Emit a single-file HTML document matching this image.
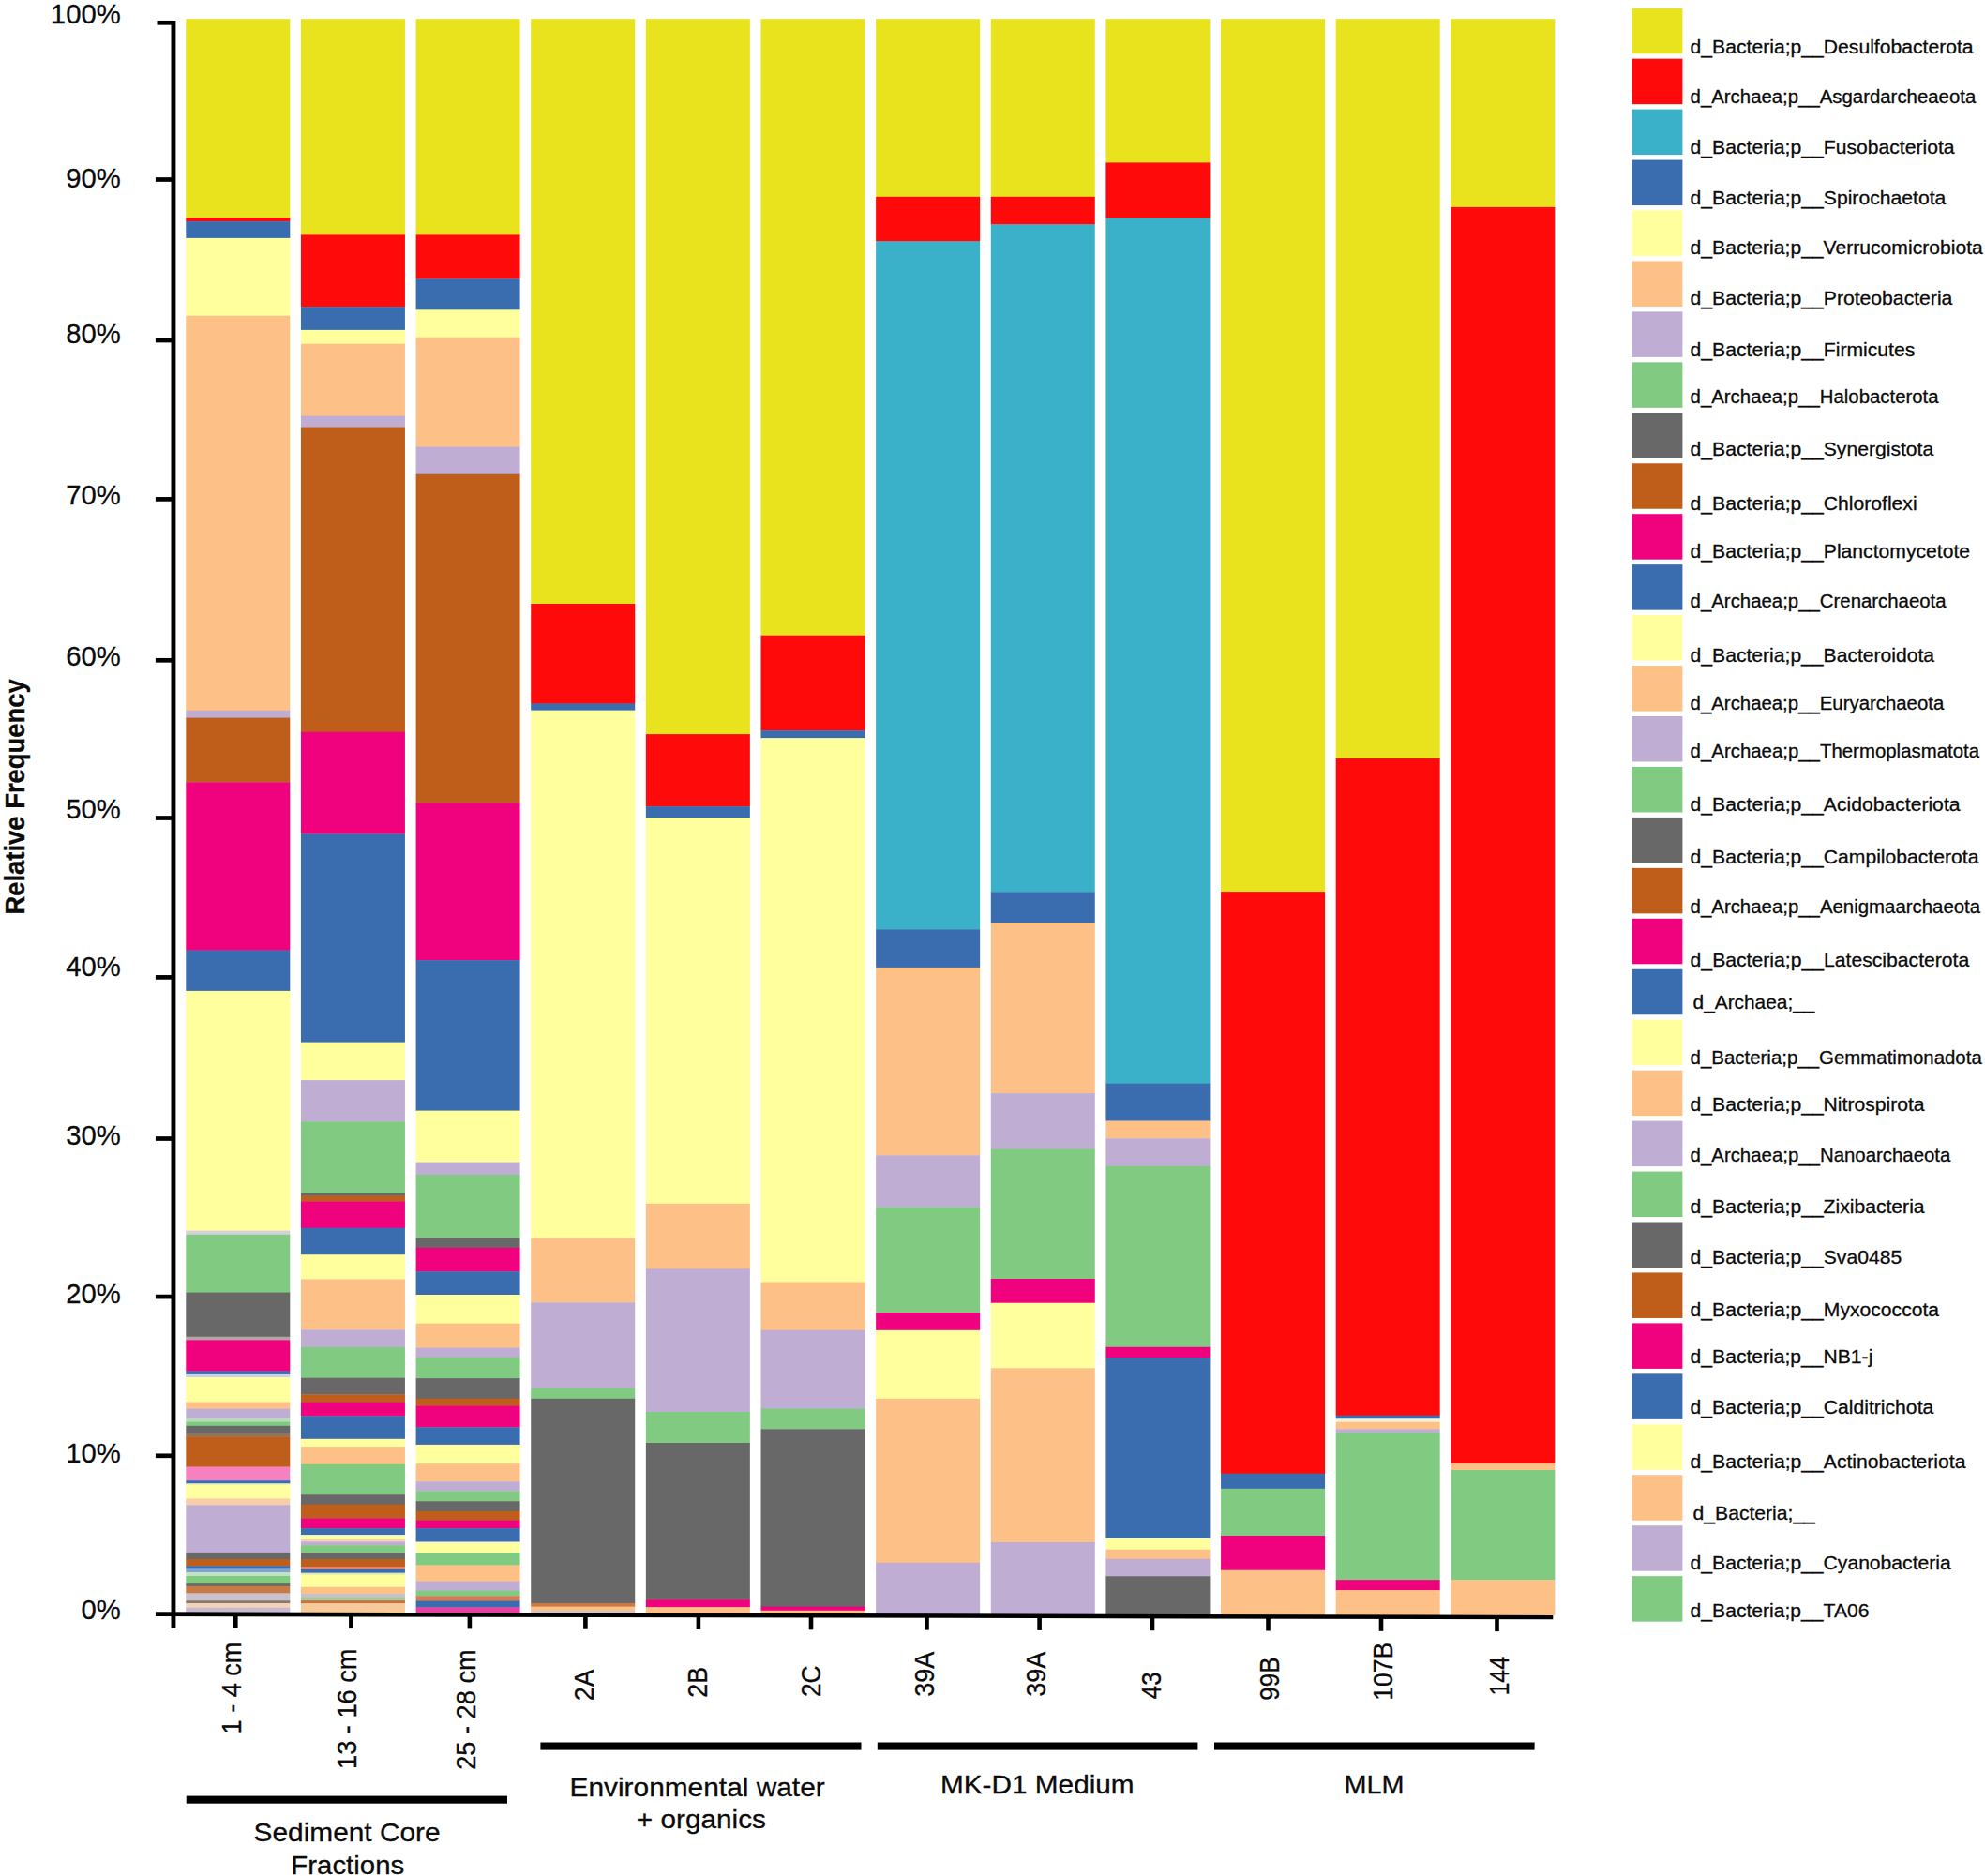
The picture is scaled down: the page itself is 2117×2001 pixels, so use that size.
<!DOCTYPE html>
<html lang="en"><head><meta charset="utf-8"><title>Relative Frequency</title>
<style>html,body{margin:0;padding:0;background:#fff}svg{display:block}text{font-family:"Liberation Sans",sans-serif;fill:#0b0b0b;stroke:#0b0b0b;stroke-width:0.3px}</style>
</head><body>
<svg width="2117" height="2001" viewBox="0 0 2117 2001">
<rect width="2117" height="2001" fill="#fff"/>
<g id="bars">
<rect x="198.30" y="20.20" width="111.00" height="212.20" fill="#e8e31d"/>
<rect x="198.30" y="232.00" width="111.00" height="4.60" fill="#fe0a0a"/>
<rect x="198.30" y="236.20" width="111.00" height="18.10" fill="#3a6db0"/>
<rect x="198.30" y="253.90" width="111.00" height="83.20" fill="#ffff9e"/>
<rect x="198.30" y="336.70" width="111.00" height="421.50" fill="#fdc086"/>
<rect x="198.30" y="757.80" width="111.00" height="8.20" fill="#bfadd4"/>
<rect x="198.30" y="765.60" width="111.00" height="69.10" fill="#bf5d1b"/>
<rect x="198.30" y="834.30" width="111.00" height="179.60" fill="#f0027f"/>
<rect x="198.30" y="1013.50" width="111.00" height="43.80" fill="#3a6db0"/>
<rect x="198.30" y="1056.90" width="111.00" height="256.10" fill="#ffff9e"/>
<rect x="198.30" y="1312.60" width="111.00" height="4.60" fill="#d8cfdc"/>
<rect x="198.30" y="1316.80" width="111.00" height="62.20" fill="#81ca81"/>
<rect x="198.30" y="1378.60" width="111.00" height="47.50" fill="#686868"/>
<rect x="198.30" y="1425.70" width="111.00" height="4.00" fill="#b3a3a3"/>
<rect x="198.30" y="1429.30" width="111.00" height="33.50" fill="#f0027f"/>
<rect x="198.30" y="1462.40" width="111.00" height="3.90" fill="#3a6db0"/>
<rect x="198.30" y="1465.90" width="111.00" height="3.60" fill="#c9d3e6"/>
<rect x="198.30" y="1469.10" width="111.00" height="26.80" fill="#ffff9e"/>
<rect x="198.30" y="1495.50" width="111.00" height="7.50" fill="#fdc086"/>
<rect x="198.30" y="1502.60" width="111.00" height="10.90" fill="#bfadd4"/>
<rect x="198.30" y="1513.10" width="111.00" height="3.90" fill="#b6dcb6"/>
<rect x="198.30" y="1516.60" width="111.00" height="4.60" fill="#81ca81"/>
<rect x="198.30" y="1520.80" width="111.00" height="8.10" fill="#686868"/>
<rect x="198.30" y="1528.50" width="111.00" height="4.20" fill="#8d7362"/>
<rect x="198.30" y="1532.30" width="111.00" height="32.60" fill="#bf5d1b"/>
<rect x="198.30" y="1564.50" width="111.00" height="15.10" fill="#f781bf"/>
<rect x="198.30" y="1579.20" width="111.00" height="3.50" fill="#3a6db0"/>
<rect x="198.30" y="1582.30" width="111.00" height="1.90" fill="#ecebc6"/>
<rect x="198.30" y="1583.80" width="111.00" height="15.00" fill="#ffff9e"/>
<rect x="198.30" y="1598.40" width="111.00" height="7.30" fill="#f7cdaa"/>
<rect x="198.30" y="1605.30" width="111.00" height="51.00" fill="#bfadd4"/>
<rect x="198.30" y="1655.90" width="111.00" height="7.50" fill="#686868"/>
<rect x="198.30" y="1663.00" width="111.00" height="7.60" fill="#bf5d1b"/>
<rect x="198.30" y="1670.20" width="111.00" height="3.60" fill="#3a6db0"/>
<rect x="198.30" y="1673.40" width="111.00" height="4.00" fill="#7da4d6"/>
<rect x="198.30" y="1677.00" width="111.00" height="4.40" fill="#c1e1c1"/>
<rect x="198.30" y="1681.00" width="111.00" height="8.50" fill="#81ca81"/>
<rect x="198.30" y="1689.10" width="111.00" height="3.10" fill="#686868"/>
<rect x="198.30" y="1691.80" width="111.00" height="8.00" fill="#c87a45"/>
<rect x="198.30" y="1699.40" width="111.00" height="8.20" fill="#c9c1d0"/>
<rect x="198.30" y="1707.20" width="111.00" height="3.20" fill="#8b7a6b"/>
<rect x="198.30" y="1710.00" width="111.00" height="5.20" fill="#f1d3ba"/>
<rect x="198.30" y="1714.80" width="111.00" height="8.20" fill="#c9b9d0"/>
<rect x="320.94" y="20.20" width="111.00" height="230.60" fill="#e8e31d"/>
<rect x="320.94" y="250.40" width="111.00" height="77.20" fill="#fe0a0a"/>
<rect x="320.94" y="327.20" width="111.00" height="25.10" fill="#3a6db0"/>
<rect x="320.94" y="351.90" width="111.00" height="15.20" fill="#ffff9e"/>
<rect x="320.94" y="366.70" width="111.00" height="77.30" fill="#fdc086"/>
<rect x="320.94" y="443.60" width="111.00" height="12.30" fill="#bfadd4"/>
<rect x="320.94" y="455.50" width="111.00" height="325.60" fill="#bf5d1b"/>
<rect x="320.94" y="780.70" width="111.00" height="109.10" fill="#f0027f"/>
<rect x="320.94" y="889.40" width="111.00" height="222.60" fill="#3a6db0"/>
<rect x="320.94" y="1111.60" width="111.00" height="40.90" fill="#ffff9e"/>
<rect x="320.94" y="1152.10" width="111.00" height="44.50" fill="#bfadd4"/>
<rect x="320.94" y="1196.20" width="111.00" height="76.90" fill="#81ca81"/>
<rect x="320.94" y="1272.70" width="111.00" height="3.20" fill="#686868"/>
<rect x="320.94" y="1275.50" width="111.00" height="6.40" fill="#bf5d1b"/>
<rect x="320.94" y="1281.50" width="111.00" height="28.60" fill="#f0027f"/>
<rect x="320.94" y="1309.70" width="111.00" height="29.00" fill="#3a6db0"/>
<rect x="320.94" y="1338.30" width="111.00" height="26.50" fill="#ffff9e"/>
<rect x="320.94" y="1364.40" width="111.00" height="54.40" fill="#fdc086"/>
<rect x="320.94" y="1418.40" width="111.00" height="19.00" fill="#bfadd4"/>
<rect x="320.94" y="1437.00" width="111.00" height="33.10" fill="#81ca81"/>
<rect x="320.94" y="1469.70" width="111.00" height="18.00" fill="#686868"/>
<rect x="320.94" y="1487.30" width="111.00" height="8.60" fill="#bf5d1b"/>
<rect x="320.94" y="1495.50" width="111.00" height="15.20" fill="#f0027f"/>
<rect x="320.94" y="1510.30" width="111.00" height="24.90" fill="#3a6db0"/>
<rect x="320.94" y="1534.80" width="111.00" height="8.70" fill="#ffff9e"/>
<rect x="320.94" y="1543.10" width="111.00" height="19.10" fill="#fdc086"/>
<rect x="320.94" y="1561.80" width="111.00" height="32.80" fill="#81ca81"/>
<rect x="320.94" y="1594.20" width="111.00" height="10.90" fill="#686868"/>
<rect x="320.94" y="1604.70" width="111.00" height="15.10" fill="#bf5d1b"/>
<rect x="320.94" y="1619.40" width="111.00" height="11.10" fill="#f0027f"/>
<rect x="320.94" y="1630.10" width="111.00" height="7.30" fill="#3a6db0"/>
<rect x="320.94" y="1637.00" width="111.00" height="1.80" fill="#eef0c8"/>
<rect x="320.94" y="1638.40" width="111.00" height="4.00" fill="#ffff9e"/>
<rect x="320.94" y="1642.00" width="111.00" height="2.70" fill="#f7d2ac"/>
<rect x="320.94" y="1644.30" width="111.00" height="4.30" fill="#bfadd4"/>
<rect x="320.94" y="1648.20" width="111.00" height="8.20" fill="#81ca81"/>
<rect x="320.94" y="1656.00" width="111.00" height="7.40" fill="#686868"/>
<rect x="320.94" y="1663.00" width="111.00" height="8.70" fill="#bf5d1b"/>
<rect x="320.94" y="1671.30" width="111.00" height="3.10" fill="#e8826f"/>
<rect x="320.94" y="1674.00" width="111.00" height="4.00" fill="#3a6db0"/>
<rect x="320.94" y="1677.60" width="111.00" height="2.40" fill="#dfe6b8"/>
<rect x="320.94" y="1679.60" width="111.00" height="13.60" fill="#ffff9e"/>
<rect x="320.94" y="1692.80" width="111.00" height="7.60" fill="#fdc086"/>
<rect x="320.94" y="1700.00" width="111.00" height="3.70" fill="#c9c1c8"/>
<rect x="320.94" y="1703.30" width="111.00" height="4.20" fill="#a2c9a2"/>
<rect x="320.94" y="1707.10" width="111.00" height="3.50" fill="#c8733a"/>
<rect x="320.94" y="1710.20" width="111.00" height="12.80" fill="#f8c999"/>
<rect x="443.58" y="20.20" width="111.00" height="230.60" fill="#e8e31d"/>
<rect x="443.58" y="250.40" width="111.00" height="47.20" fill="#fe0a0a"/>
<rect x="443.58" y="297.20" width="111.00" height="33.60" fill="#3a6db0"/>
<rect x="443.58" y="330.40" width="111.00" height="29.70" fill="#ffff9e"/>
<rect x="443.58" y="359.70" width="111.00" height="117.20" fill="#fdc086"/>
<rect x="443.58" y="476.50" width="111.00" height="29.60" fill="#bfadd4"/>
<rect x="443.58" y="505.70" width="111.00" height="350.90" fill="#bf5d1b"/>
<rect x="443.58" y="856.20" width="111.00" height="168.30" fill="#f0027f"/>
<rect x="443.58" y="1024.10" width="111.00" height="160.90" fill="#3a6db0"/>
<rect x="443.58" y="1184.60" width="111.00" height="55.40" fill="#ffff9e"/>
<rect x="443.58" y="1239.60" width="111.00" height="13.80" fill="#bfadd4"/>
<rect x="443.58" y="1253.00" width="111.00" height="67.70" fill="#81ca81"/>
<rect x="443.58" y="1320.30" width="111.00" height="11.00" fill="#686868"/>
<rect x="443.58" y="1330.90" width="111.00" height="25.80" fill="#f0027f"/>
<rect x="443.58" y="1356.30" width="111.00" height="25.10" fill="#3a6db0"/>
<rect x="443.58" y="1381.00" width="111.00" height="31.10" fill="#ffff9e"/>
<rect x="443.58" y="1411.70" width="111.00" height="26.20" fill="#fdc086"/>
<rect x="443.58" y="1437.50" width="111.00" height="10.60" fill="#bfadd4"/>
<rect x="443.58" y="1447.70" width="111.00" height="22.80" fill="#81ca81"/>
<rect x="443.58" y="1470.10" width="111.00" height="22.00" fill="#686868"/>
<rect x="443.58" y="1491.70" width="111.00" height="8.10" fill="#bf5d1b"/>
<rect x="443.58" y="1499.40" width="111.00" height="23.30" fill="#f0027f"/>
<rect x="443.58" y="1522.30" width="111.00" height="19.00" fill="#3a6db0"/>
<rect x="443.58" y="1540.90" width="111.00" height="20.70" fill="#ffff9e"/>
<rect x="443.58" y="1561.20" width="111.00" height="19.40" fill="#fdc086"/>
<rect x="443.58" y="1580.20" width="111.00" height="10.50" fill="#bfadd4"/>
<rect x="443.58" y="1590.30" width="111.00" height="11.30" fill="#81ca81"/>
<rect x="443.58" y="1601.20" width="111.00" height="11.10" fill="#686868"/>
<rect x="443.58" y="1611.90" width="111.00" height="10.00" fill="#bf5d1b"/>
<rect x="443.58" y="1621.50" width="111.00" height="9.00" fill="#f0027f"/>
<rect x="443.58" y="1630.10" width="111.00" height="14.80" fill="#3a6db0"/>
<rect x="443.58" y="1644.50" width="111.00" height="1.70" fill="#f4f4dc"/>
<rect x="443.58" y="1645.80" width="111.00" height="10.60" fill="#ffff9e"/>
<rect x="443.58" y="1656.00" width="111.00" height="13.80" fill="#81ca81"/>
<rect x="443.58" y="1669.40" width="111.00" height="17.60" fill="#fdc086"/>
<rect x="443.58" y="1686.60" width="111.00" height="10.30" fill="#bfadd4"/>
<rect x="443.58" y="1696.50" width="111.00" height="6.20" fill="#81ca81"/>
<rect x="443.58" y="1702.30" width="111.00" height="5.60" fill="#d97a52"/>
<rect x="443.58" y="1707.50" width="111.00" height="7.30" fill="#3a6db0"/>
<rect x="443.58" y="1714.40" width="111.00" height="8.60" fill="#e7409f"/>
<rect x="566.22" y="20.20" width="111.00" height="624.20" fill="#e8e31d"/>
<rect x="566.22" y="644.00" width="111.00" height="106.90" fill="#fe0a0a"/>
<rect x="566.22" y="750.50" width="111.00" height="7.50" fill="#3a6db0"/>
<rect x="566.22" y="757.60" width="111.00" height="563.20" fill="#ffff9e"/>
<rect x="566.22" y="1320.40" width="111.00" height="69.30" fill="#fdc086"/>
<rect x="566.22" y="1389.30" width="111.00" height="91.50" fill="#bfadd4"/>
<rect x="566.22" y="1480.40" width="111.00" height="11.80" fill="#81ca81"/>
<rect x="566.22" y="1491.80" width="111.00" height="218.50" fill="#686868"/>
<rect x="566.22" y="1709.90" width="111.00" height="4.10" fill="#c87a45"/>
<rect x="566.22" y="1713.60" width="111.00" height="4.40" fill="#fdc086"/>
<rect x="566.22" y="1717.60" width="111.00" height="5.40" fill="#d9c4c4"/>
<rect x="688.86" y="20.20" width="111.00" height="763.30" fill="#e8e31d"/>
<rect x="688.86" y="783.10" width="111.00" height="77.50" fill="#fe0a0a"/>
<rect x="688.86" y="860.20" width="111.00" height="12.20" fill="#3a6db0"/>
<rect x="688.86" y="872.00" width="111.00" height="412.20" fill="#ffff9e"/>
<rect x="688.86" y="1283.80" width="111.00" height="69.80" fill="#fdc086"/>
<rect x="688.86" y="1353.20" width="111.00" height="153.20" fill="#bfadd4"/>
<rect x="688.86" y="1506.00" width="111.00" height="33.40" fill="#81ca81"/>
<rect x="688.86" y="1539.00" width="111.00" height="167.90" fill="#686868"/>
<rect x="688.86" y="1706.50" width="111.00" height="8.10" fill="#f0027f"/>
<rect x="688.86" y="1714.20" width="111.00" height="8.80" fill="#fdc086"/>
<rect x="811.50" y="20.20" width="111.00" height="657.90" fill="#e8e31d"/>
<rect x="811.50" y="677.70" width="111.00" height="101.90" fill="#fe0a0a"/>
<rect x="811.50" y="779.20" width="111.00" height="8.40" fill="#3a6db0"/>
<rect x="811.50" y="787.20" width="111.00" height="580.70" fill="#ffff9e"/>
<rect x="811.50" y="1367.50" width="111.00" height="51.70" fill="#fdc086"/>
<rect x="811.50" y="1418.80" width="111.00" height="84.20" fill="#bfadd4"/>
<rect x="811.50" y="1502.60" width="111.00" height="22.10" fill="#81ca81"/>
<rect x="811.50" y="1524.30" width="111.00" height="189.70" fill="#686868"/>
<rect x="811.50" y="1713.60" width="111.00" height="4.60" fill="#f0027f"/>
<rect x="811.50" y="1717.80" width="111.00" height="5.20" fill="#fdc086"/>
<rect x="934.14" y="20.20" width="111.00" height="190.00" fill="#e8e31d"/>
<rect x="934.14" y="209.80" width="111.00" height="47.90" fill="#fe0a0a"/>
<rect x="934.14" y="257.30" width="111.00" height="734.40" fill="#3bb0c9"/>
<rect x="934.14" y="991.30" width="111.00" height="41.00" fill="#3a6db0"/>
<rect x="934.14" y="1031.90" width="111.00" height="200.80" fill="#fdc086"/>
<rect x="934.14" y="1232.30" width="111.00" height="55.50" fill="#bfadd4"/>
<rect x="934.14" y="1287.40" width="111.00" height="113.00" fill="#81ca81"/>
<rect x="934.14" y="1400.00" width="111.00" height="19.20" fill="#f0027f"/>
<rect x="934.14" y="1418.80" width="111.00" height="73.40" fill="#ffff9e"/>
<rect x="934.14" y="1491.80" width="111.00" height="175.40" fill="#fdc086"/>
<rect x="934.14" y="1666.80" width="111.00" height="56.20" fill="#bfadd4"/>
<rect x="1056.78" y="20.20" width="111.00" height="190.00" fill="#e8e31d"/>
<rect x="1056.78" y="209.80" width="111.00" height="29.90" fill="#fe0a0a"/>
<rect x="1056.78" y="239.30" width="111.00" height="712.60" fill="#3bb0c9"/>
<rect x="1056.78" y="951.50" width="111.00" height="32.90" fill="#3a6db0"/>
<rect x="1056.78" y="984.00" width="111.00" height="182.50" fill="#fdc086"/>
<rect x="1056.78" y="1166.10" width="111.00" height="59.70" fill="#bfadd4"/>
<rect x="1056.78" y="1225.40" width="111.00" height="139.00" fill="#81ca81"/>
<rect x="1056.78" y="1364.00" width="111.00" height="26.10" fill="#f0027f"/>
<rect x="1056.78" y="1389.70" width="111.00" height="70.00" fill="#ffff9e"/>
<rect x="1056.78" y="1459.30" width="111.00" height="186.10" fill="#fdc086"/>
<rect x="1056.78" y="1645.00" width="111.00" height="78.00" fill="#bfadd4"/>
<rect x="1179.42" y="20.20" width="111.00" height="153.60" fill="#e8e31d"/>
<rect x="1179.42" y="173.40" width="111.00" height="59.40" fill="#fe0a0a"/>
<rect x="1179.42" y="232.40" width="111.00" height="923.70" fill="#3bb0c9"/>
<rect x="1179.42" y="1155.70" width="111.00" height="40.20" fill="#3a6db0"/>
<rect x="1179.42" y="1195.50" width="111.00" height="19.20" fill="#fdc086"/>
<rect x="1179.42" y="1214.30" width="111.00" height="29.90" fill="#bfadd4"/>
<rect x="1179.42" y="1243.80" width="111.00" height="193.40" fill="#81ca81"/>
<rect x="1179.42" y="1436.80" width="111.00" height="11.80" fill="#f0027f"/>
<rect x="1179.42" y="1448.20" width="111.00" height="193.00" fill="#3a6db0"/>
<rect x="1179.42" y="1640.80" width="111.00" height="12.30" fill="#ffff9e"/>
<rect x="1179.42" y="1652.70" width="111.00" height="10.50" fill="#fdc086"/>
<rect x="1179.42" y="1662.80" width="111.00" height="18.80" fill="#bfadd4"/>
<rect x="1179.42" y="1681.20" width="111.00" height="41.80" fill="#686868"/>
<rect x="1302.06" y="20.20" width="111.00" height="931.30" fill="#e8e31d"/>
<rect x="1302.06" y="951.10" width="111.00" height="621.00" fill="#fe0a0a"/>
<rect x="1302.06" y="1571.70" width="111.00" height="16.50" fill="#3a6db0"/>
<rect x="1302.06" y="1587.80" width="111.00" height="50.60" fill="#81ca81"/>
<rect x="1302.06" y="1638.00" width="111.00" height="37.10" fill="#f0027f"/>
<rect x="1302.06" y="1674.70" width="111.00" height="48.30" fill="#fdc086"/>
<rect x="1424.70" y="20.20" width="111.00" height="789.00" fill="#e8e31d"/>
<rect x="1424.70" y="808.80" width="111.00" height="701.20" fill="#fe0a0a"/>
<rect x="1424.70" y="1509.60" width="111.00" height="4.10" fill="#3a6db0"/>
<rect x="1424.70" y="1513.30" width="111.00" height="3.80" fill="#f3f3cf"/>
<rect x="1424.70" y="1516.70" width="111.00" height="8.00" fill="#fdc086"/>
<rect x="1424.70" y="1524.30" width="111.00" height="4.10" fill="#bfadd4"/>
<rect x="1424.70" y="1528.00" width="111.00" height="157.50" fill="#81ca81"/>
<rect x="1424.70" y="1685.10" width="111.00" height="11.40" fill="#f0027f"/>
<rect x="1424.70" y="1696.10" width="111.00" height="26.90" fill="#fdc086"/>
<rect x="1547.34" y="20.20" width="111.00" height="201.10" fill="#e8e31d"/>
<rect x="1547.34" y="220.90" width="111.00" height="1340.50" fill="#fe0a0a"/>
<rect x="1547.34" y="1561.00" width="111.00" height="7.40" fill="#fdc086"/>
<rect x="1547.34" y="1568.00" width="111.00" height="117.50" fill="#81ca81"/>
<rect x="1547.34" y="1685.10" width="111.00" height="37.90" fill="#fdc086"/>
</g>
<g id="axes" fill="#000">
<rect x="182.5" y="22" width="4.9" height="1715"/>
<polygon points="165.9,1719.3 1656.3,1722.9 1656.3,1727.2 165.9,1724.1"/>
<rect x="167.5" y="21.95" width="16.5" height="4.7"/>
<rect x="165.9" y="189.15" width="18.1" height="4.7"/>
<rect x="165.9" y="360.65" width="18.1" height="4.7"/>
<rect x="165.9" y="530.05" width="18.1" height="4.7"/>
<rect x="165.9" y="701.95" width="18.1" height="4.7"/>
<rect x="165.9" y="870.15" width="18.1" height="4.7"/>
<rect x="165.9" y="1040.05" width="18.1" height="4.7"/>
<rect x="165.9" y="1212.15" width="18.1" height="4.7"/>
<rect x="165.9" y="1380.75" width="18.1" height="4.7"/>
<rect x="165.9" y="1550.45" width="18.1" height="4.7"/>
<rect x="249.00" y="1720.51" width="4.6" height="16.29"/>
<rect x="372.10" y="1720.80" width="4.6" height="16.30"/>
<rect x="498.60" y="1721.11" width="4.6" height="16.30"/>
<rect x="622.10" y="1721.41" width="4.6" height="16.31"/>
<rect x="742.60" y="1721.70" width="4.6" height="16.31"/>
<rect x="862.70" y="1721.99" width="4.6" height="16.32"/>
<rect x="986.20" y="1722.29" width="4.6" height="16.32"/>
<rect x="1106.30" y="1722.58" width="4.6" height="16.33"/>
<rect x="1226.70" y="1722.87" width="4.6" height="16.33"/>
<rect x="1350.20" y="1723.17" width="4.6" height="16.34"/>
<rect x="1470.70" y="1723.46" width="4.6" height="16.34"/>
<rect x="1594.20" y="1723.76" width="4.6" height="16.34"/>
</g>
<g id="groups" fill="#000">
<rect x="198.7" y="1915.6" width="342.3" height="8.1"/>
<rect x="576.4" y="1858.5" width="342.1" height="8.1"/>
<rect x="935.8" y="1858.5" width="341.6" height="8.1"/>
<rect x="1295.0" y="1858.5" width="341.6" height="8.1"/>
</g>
<g id="ylabels">
<text transform="translate(128.70,25.30) scale(0.992,1)" font-size="29.5" text-anchor="end">100%</text>
<text transform="translate(128.70,199.80) scale(0.992,1)" font-size="29.5" text-anchor="end">90%</text>
<text transform="translate(128.70,365.70) scale(0.992,1)" font-size="29.5" text-anchor="end">80%</text>
<text transform="translate(128.70,538.10) scale(0.992,1)" font-size="29.5" text-anchor="end">70%</text>
<text transform="translate(128.70,709.70) scale(0.992,1)" font-size="29.5" text-anchor="end">60%</text>
<text transform="translate(128.70,872.60) scale(0.992,1)" font-size="29.5" text-anchor="end">50%</text>
<text transform="translate(128.70,1040.90) scale(0.992,1)" font-size="29.5" text-anchor="end">40%</text>
<text transform="translate(128.70,1220.50) scale(0.992,1)" font-size="29.5" text-anchor="end">30%</text>
<text transform="translate(128.70,1390.10) scale(0.992,1)" font-size="29.5" text-anchor="end">20%</text>
<text transform="translate(128.70,1559.80) scale(0.992,1)" font-size="29.5" text-anchor="end">10%</text>
<text transform="translate(128.70,1727.30) scale(0.992,1)" font-size="29.5" text-anchor="end">0%</text>
</g>
<text transform="translate(26.40,975.60) scale(1.0900,0.9905) rotate(-90)" font-size="27.7" font-weight="bold">Relative Frequency</text>
<g id="xlabels">
<text transform="translate(257.30,1849.40) scale(1.0700,0.9800) rotate(-90)" font-size="27.6">1 - 4 cm</text>
<text transform="translate(380.30,1886.90) scale(1.0700,0.9833) rotate(-90)" font-size="27.6">13 - 16 cm</text>
<text transform="translate(506.70,1887.80) scale(1.0700,0.9856) rotate(-90)" font-size="27.6">25 - 28 cm</text>
<text transform="translate(632.70,1814.30) scale(1.0700,0.9925) rotate(-90)" font-size="27.6">2A</text>
<text transform="translate(753.50,1810.70) scale(1.0700,0.9688) rotate(-90)" font-size="27.6">2B</text>
<text transform="translate(875.00,1810.10) scale(1.0700,0.9522) rotate(-90)" font-size="27.6">2C</text>
<text transform="translate(996.20,1809.80) scale(1.0700,0.9794) rotate(-90)" font-size="27.6">39A</text>
<text transform="translate(1115.30,1809.80) scale(1.0700,0.9794) rotate(-90)" font-size="27.6">39A</text>
<text transform="translate(1237.50,1812.20) scale(1.0700,0.9347) rotate(-90)" font-size="27.6">43</text>
<text transform="translate(1363.60,1813.70) scale(1.0700,0.9407) rotate(-90)" font-size="27.6">99B</text>
<text transform="translate(1484.50,1813.70) scale(1.0700,0.9618) rotate(-90)" font-size="27.6">107B</text>
<text transform="translate(1608.50,1808.60) scale(1.0700,0.9055) rotate(-90)" font-size="27.6">144</text>
</g>
<g id="grouplabels">
<text transform="translate(270.60,1964.10) scale(1.0737,1)" font-size="27.8">Sediment Core</text>
<text transform="translate(310.30,1998.60) scale(1.0575,1)" font-size="27.8">Fractions</text>
<text transform="translate(607.50,1915.60) scale(1.0745,1)" font-size="27.8">Environmental water</text>
<text transform="translate(678.80,1950.30) scale(1.0710,1)" font-size="27.8">+ organics</text>
<text transform="translate(1002.90,1912.60) scale(1.0710,1)" font-size="27.8">MK-D1 Medium</text>
<text transform="translate(1433.40,1912.60) scale(1.0377,1)" font-size="27.8">MLM</text>
</g>
<g id="legend">
<rect x="1740.5" y="8.70" width="53.9" height="48.5" fill="#e8e31d"/>
<text transform="translate(1802.60,56.60) scale(1.0368,1)" font-size="20.4">d_Bacteria;p__Desulfobacterota</text>
<rect x="1740.5" y="62.65" width="53.9" height="48.5" fill="#fe0a0a"/>
<text transform="translate(1802.60,109.80) scale(0.9993,1)" font-size="20.4">d_Archaea;p__Asgardarcheaeota</text>
<rect x="1740.5" y="116.60" width="53.9" height="48.5" fill="#3bb0c9"/>
<text transform="translate(1802.60,163.60) scale(1.0361,1)" font-size="20.4">d_Bacteria;p__Fusobacteriota</text>
<rect x="1740.5" y="170.55" width="53.9" height="48.5" fill="#3a6db0"/>
<text transform="translate(1802.60,218.30) scale(1.0371,1)" font-size="20.4">d_Bacteria;p__Spirochaetota</text>
<rect x="1740.5" y="224.50" width="53.9" height="48.5" fill="#ffff9e"/>
<text transform="translate(1802.60,271.40) scale(1.0357,1)" font-size="20.4">d_Bacteria;p__Verrucomicrobiota</text>
<rect x="1740.5" y="278.45" width="53.9" height="48.5" fill="#fdc086"/>
<text transform="translate(1802.60,325.30) scale(1.0373,1)" font-size="20.4">d_Bacteria;p__Proteobacteria</text>
<rect x="1740.5" y="332.40" width="53.9" height="48.5" fill="#bfadd4"/>
<text transform="translate(1802.60,380.20) scale(1.0372,1)" font-size="20.4">d_Bacteria;p__Firmicutes</text>
<rect x="1740.5" y="386.35" width="53.9" height="48.5" fill="#81ca81"/>
<text transform="translate(1802.60,430.40) scale(0.9993,1)" font-size="20.4">d_Archaea;p__Halobacterota</text>
<rect x="1740.5" y="440.30" width="53.9" height="48.5" fill="#686868"/>
<text transform="translate(1802.60,485.50) scale(1.0362,1)" font-size="20.4">d_Bacteria;p__Synergistota</text>
<rect x="1740.5" y="494.25" width="53.9" height="48.5" fill="#bf5d1b"/>
<text transform="translate(1802.60,543.70) scale(1.0363,1)" font-size="20.4">d_Bacteria;p__Chloroflexi</text>
<rect x="1740.5" y="548.20" width="53.9" height="48.5" fill="#f0027f"/>
<text transform="translate(1802.60,594.90) scale(1.0367,1)" font-size="20.4">d_Bacteria;p__Planctomycetote</text>
<rect x="1740.5" y="602.15" width="53.9" height="48.5" fill="#3a6db0"/>
<text transform="translate(1802.60,648.20) scale(0.9999,1)" font-size="20.4">d_Archaea;p__Crenarchaeota</text>
<rect x="1740.5" y="656.10" width="53.9" height="48.5" fill="#ffff9e"/>
<text transform="translate(1802.60,706.10) scale(1.0354,1)" font-size="20.4">d_Bacteria;p__Bacteroidota</text>
<rect x="1740.5" y="710.05" width="53.9" height="48.5" fill="#fdc086"/>
<text transform="translate(1802.60,757.00) scale(0.9994,1)" font-size="20.4">d_Archaea;p__Euryarchaeota</text>
<rect x="1740.5" y="764.00" width="53.9" height="48.5" fill="#bfadd4"/>
<text transform="translate(1802.60,808.10) scale(1.0008,1)" font-size="20.4">d_Archaea;p__Thermoplasmatota</text>
<rect x="1740.5" y="817.95" width="53.9" height="48.5" fill="#81ca81"/>
<text transform="translate(1802.60,865.20) scale(1.0369,1)" font-size="20.4">d_Bacteria;p__Acidobacteriota</text>
<rect x="1740.5" y="871.90" width="53.9" height="48.5" fill="#686868"/>
<text transform="translate(1802.60,920.50) scale(1.0363,1)" font-size="20.4">d_Bacteria;p__Campilobacterota</text>
<rect x="1740.5" y="925.85" width="53.9" height="48.5" fill="#bf5d1b"/>
<text transform="translate(1802.60,973.70) scale(1.0002,1)" font-size="20.4">d_Archaea;p__Aenigmaarchaeota</text>
<rect x="1740.5" y="979.80" width="53.9" height="48.5" fill="#f0027f"/>
<text transform="translate(1802.60,1031.00) scale(1.0379,1)" font-size="20.4">d_Bacteria;p__Latescibacterota</text>
<rect x="1740.5" y="1033.75" width="53.9" height="48.5" fill="#3a6db0"/>
<text transform="translate(1805.60,1076.30) scale(1.0223,1)" font-size="20.4">d_Archaea;__</text>
<rect x="1740.5" y="1087.70" width="53.9" height="48.5" fill="#ffff9e"/>
<text transform="translate(1802.60,1135.40) scale(1.0022,1)" font-size="20.4">d_Bacteria;p__Gemmatimonadota</text>
<rect x="1740.5" y="1141.65" width="53.9" height="48.5" fill="#fdc086"/>
<text transform="translate(1802.60,1185.10) scale(1.0358,1)" font-size="20.4">d_Bacteria;p__Nitrospirota</text>
<rect x="1740.5" y="1195.60" width="53.9" height="48.5" fill="#bfadd4"/>
<text transform="translate(1802.60,1239.30) scale(1.0000,1)" font-size="20.4">d_Archaea;p__Nanoarchaeota</text>
<rect x="1740.5" y="1249.55" width="53.9" height="48.5" fill="#81ca81"/>
<text transform="translate(1802.60,1294.00) scale(1.0358,1)" font-size="20.4">d_Bacteria;p__Zixibacteria</text>
<rect x="1740.5" y="1303.50" width="53.9" height="48.5" fill="#686868"/>
<text transform="translate(1802.60,1348.10) scale(1.0364,1)" font-size="20.4">d_Bacteria;p__Sva0485</text>
<rect x="1740.5" y="1357.45" width="53.9" height="48.5" fill="#bf5d1b"/>
<text transform="translate(1802.60,1403.50) scale(1.0367,1)" font-size="20.4">d_Bacteria;p__Myxococcota</text>
<rect x="1740.5" y="1411.40" width="53.9" height="48.5" fill="#f0027f"/>
<text transform="translate(1802.60,1453.80) scale(1.0348,1)" font-size="20.4">d_Bacteria;p__NB1-j</text>
<rect x="1740.5" y="1465.35" width="53.9" height="48.5" fill="#3a6db0"/>
<text transform="translate(1802.60,1508.40) scale(1.0366,1)" font-size="20.4">d_Bacteria;p__Calditrichota</text>
<rect x="1740.5" y="1519.30" width="53.9" height="48.5" fill="#ffff9e"/>
<text transform="translate(1802.60,1565.50) scale(1.0373,1)" font-size="20.4">d_Bacteria;p__Actinobacteriota</text>
<rect x="1740.5" y="1573.25" width="53.9" height="48.5" fill="#fdc086"/>
<text transform="translate(1805.60,1620.50) scale(1.0355,1)" font-size="20.4">d_Bacteria;__</text>
<rect x="1740.5" y="1627.20" width="53.9" height="48.5" fill="#bfadd4"/>
<text transform="translate(1802.60,1674.10) scale(1.0354,1)" font-size="20.4">d_Bacteria;p__Cyanobacteria</text>
<rect x="1740.5" y="1681.15" width="53.9" height="48.5" fill="#81ca81"/>
<text transform="translate(1802.60,1725.00) scale(1.0348,1)" font-size="20.4">d_Bacteria;p__TA06</text>
</g>
</svg>
</body></html>
